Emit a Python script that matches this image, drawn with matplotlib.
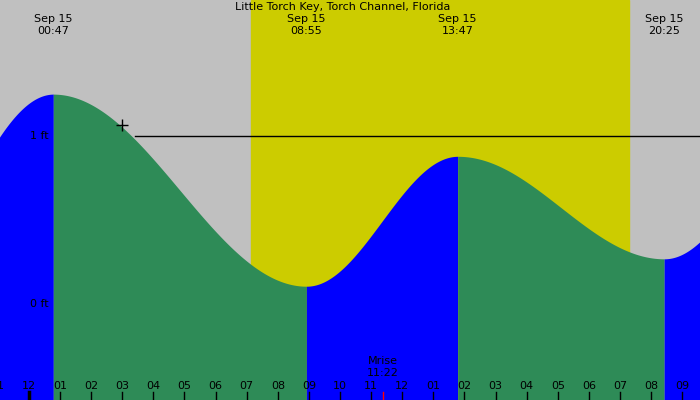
import numpy as np
import matplotlib.pyplot as plt

# tide extremes (hours after midnight Sep 15, height in ft)
ext_times = [-5.6, 0.783, 8.917, 13.783, 20.417, 26.2]
ext_heights = [-0.25, 1.25, 0.107, 0.88, 0.27, 1.35]
ext_labels = ['00:47', '08:55', '13:47', '20:25']
sunrise, sunset = 7.14, 19.29
moonrise = 11.367
hour_labels = ['11', '12', '01', '02', '03', '04', '05', '06', '07', '08', '09', '10',
               '11', '12', '01', '02', '03', '04', '05', '06', '07', '08', '09']

x0, x1 = -0.93, 21.57
y0, y1 = -0.57, 1.81

fig = plt.figure(figsize=(7, 4), dpi=100)
ax = fig.add_axes([0, 0, 1, 1])
ax.set_xlim(x0, x1)
ax.set_ylim(y0, y1)
ax.axis('off')
fig.patch.set_facecolor('#C0C0C0')
ax.axvspan(sunrise, sunset, color='#CCCC00', zorder=0)

# cosine curve between extremes
for i in range(len(ext_times) - 1):
    ta, tb = ext_times[i], ext_times[i + 1]
    ha, hb = ext_heights[i], ext_heights[i + 1]
    t = np.linspace(ta, tb, 200)
    h = ha + (hb - ha) * (1 - np.cos(np.pi * (t - ta) / (tb - ta))) / 2
    col = '#0000FF' if hb > ha else '#2E8B57'
    ax.fill_between(t, y0, h, color=col, lw=0, zorder=1)

ax.plot([3.4, x1], [1, 1], color='black', lw=1, zorder=3)
ax.plot(3.0, 1.065, marker='+', color='black', ms=9, mew=1, zorder=3)
ax.text(0.05, 1, '1 ft', fontsize=8, va='center', ha='left', zorder=4)
ax.text(0.05, 0, '0 ft', fontsize=8, va='center', ha='left', zorder=4)

ax.text(10.1, 1.81 - 7 / 168, 'Little Torch Key, Torch Channel, Florida',
        ha='center', va='center', fontsize=8)
for t, lab in zip(ext_times[1:5], ext_labels):
    ax.text(t, 1.81 - 19 / 168, 'Sep 15', ha='center', va='center', fontsize=8)
    ax.text(t, 1.81 - 31 / 168, lab, ha='center', va='center', fontsize=8)

for i, lab in enumerate(hour_labels):
    hr = i - 1
    ax.text(hr, y0 + 14 / 168, lab, ha='center', va='center', fontsize=8, zorder=4)
    ax.plot([hr, hr], [y0, y0 + 8 / 168], color='black', lw=2.5 if hr == 0 else 1, zorder=4)
ax.plot([moonrise, moonrise], [y0, y0 + 8 / 168], color='red', lw=1, zorder=4)
ax.text(moonrise, y0 + 39 / 168, 'Mrise', ha='center', va='center', fontsize=8, zorder=4)
ax.text(moonrise, y0 + 27 / 168, '11:22', ha='center', va='center', fontsize=8, zorder=4)

fig.savefig('out.png', dpi=100, facecolor=fig.get_facecolor())
